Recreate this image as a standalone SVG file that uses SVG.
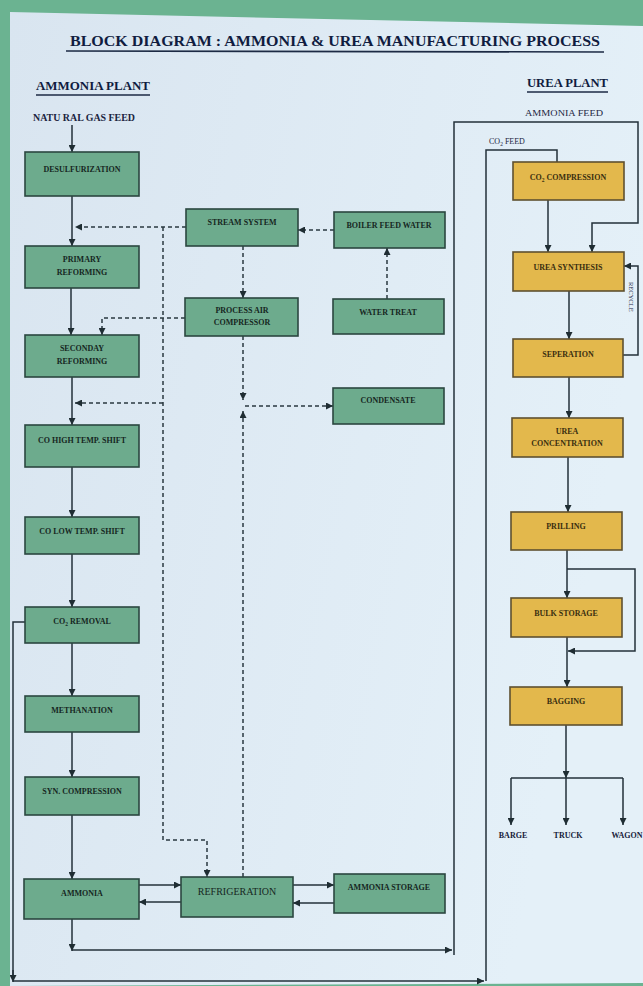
<svg xmlns="http://www.w3.org/2000/svg" width="643" height="986" viewBox="0 0 643 986">
<defs>
<linearGradient id="paper" x1="0" y1="0" x2="1" y2="0.3">
<stop offset="0" stop-color="#d9e5f0"/>
<stop offset="1" stop-color="#e4f0f8"/>
</linearGradient>
<marker id="ah" viewBox="0 0 8 8" refX="8" refY="4" markerWidth="7" markerHeight="7" markerUnits="userSpaceOnUse" orient="auto">
<path d="M0,0 L8,4 L0,8 z" fill="#1f2d33"/>
</marker>
<style>
.g rect{fill:#6dab8d;stroke:#2b4740;stroke-width:1.6}
.y rect{fill:#e3b84c;stroke:#5e5030;stroke-width:1.6}
.g text{fill:#16271f}
.y text{fill:#3a2f10}
text{font-family:"Liberation Serif","Times New Roman",serif}
.b{font-size:8px;font-weight:bold;text-anchor:middle}
.s{fill:none;stroke:#23313a;stroke-width:1.5}
.d{fill:none;stroke:#2a3840;stroke-width:1.5;stroke-dasharray:4 3}
.a{marker-end:url(#ah)}
.h{font-weight:bold;fill:#101c40}
.l{font-size:8px;font-weight:bold;fill:#16213a;text-anchor:middle}
</style>
</defs>
<rect x="0" y="0" width="643" height="986" fill="#6bb391"/>
<polygon points="10,12 643,26 643,983 10,986" fill="url(#paper)"/>

<g id="titles">
<text class="h" x="70" y="46" font-size="15" textLength="530" lengthAdjust="spacingAndGlyphs">BLOCK DIAGRAM : AMMONIA &amp; UREA MANUFACTURING PROCESS</text>
<line x1="66" y1="51" x2="604" y2="52" stroke="#1c2a44" stroke-width="1.6"/>
<text class="h" x="36" y="90" font-size="13" textLength="114" lengthAdjust="spacingAndGlyphs">AMMONIA PLANT</text>
<line x1="36" y1="95" x2="150" y2="95" stroke="#1c2a44" stroke-width="1.4"/>
<text class="h" x="527" y="87" font-size="13" textLength="81" lengthAdjust="spacingAndGlyphs">UREA PLANT</text>
<line x1="527" y1="92" x2="608" y2="92" stroke="#1c2a44" stroke-width="1.4"/>
<text x="33" y="121" font-size="9.5" font-weight="bold" fill="#1a2440" textLength="102" lengthAdjust="spacingAndGlyphs">NATU RAL GAS FEED</text>
<text x="525" y="116" font-size="9" fill="#1a2440" textLength="78" lengthAdjust="spacingAndGlyphs">AMMONIA FEED</text>
<text x="489" y="144" font-size="8" fill="#1a2440">CO<tspan font-size="5.5" dy="2">2</tspan><tspan dy="-2"> FEED</tspan></text>
<text x="629" y="282" font-size="6.5" fill="#1a2440" transform="rotate(90 629 282)">RECYCLE</text>
<text class="l" x="513" y="838">BARGE</text>
<text class="l" x="568" y="838">TRUCK</text>
<text class="l" x="627" y="838">WAGON</text>
</g>

<g id="connectors">
<path class="s a" d="M72,125 V152"/>
<path class="s a" d="M72,196 V246"/>
<path class="s a" d="M71,288 V335"/>
<path class="s a" d="M72,377 V425"/>
<path class="s a" d="M72,467 V517"/>
<path class="s a" d="M72,554 V607"/>
<path class="s a" d="M72,643 V696"/>
<path class="s a" d="M72,732 V777"/>
<path class="s a" d="M72,815 V879"/>
<path class="s a" d="M72,919 V951"/>
<path class="s a" d="M72,950 H452"/>
<path class="s a" d="M454,955 V122 H638 V223 H592 V252"/>
<path class="s" d="M25,622 H13 V975"/>
<path class="s a" d="M13,970 V982"/>
<path class="s a" d="M13,981 H484"/>
<path class="s" d="M486,981 V150 H557 V162"/>
<path class="s a" d="M548,200 V252"/>
<path class="s a" d="M569,291 V339"/>
<path class="s a" d="M623,355 H638 V266 H624"/>
<path class="s a" d="M569,377 V418"/>
<path class="s a" d="M568,457 V512"/>
<path class="s a" d="M567,550 V598"/>
<path class="s a" d="M567,569 H635 V651 H568"/>
<path class="s a" d="M567,637 V687"/>
<path class="s a" d="M566,725 V778"/>
<path class="s" d="M511,778 H623"/>
<path class="s a" d="M511,778 V825"/>
<path class="s a" d="M566,778 V825"/>
<path class="s a" d="M623,778 V825"/>
<path class="s a" d="M139,885 H181"/>
<path class="s a" d="M181,902 H139"/>
<path class="s a" d="M293,885 H334"/>
<path class="s a" d="M334,903 H293"/>
<path class="d a" d="M186,227 H75"/>
<path class="d a" d="M163,227 V840 H207 V877"/>
<path class="d a" d="M163,403 H75"/>
<path class="d a" d="M334,230 H298"/>
<path class="d a" d="M387,299 V248"/>
<path class="d a" d="M243,246 V298"/>
<path class="d a" d="M185,318 H102 V335"/>
<path class="d a" d="M243,336 V400"/>
<path class="d a" d="M243,877 V411"/>
<path class="d a" d="M245,406 H333"/>
</g>

<g id="desulfurization" class="g"><rect x="25" y="152" width="114" height="44"/><text class="b" x="82" y="172">DESULFURIZATION</text></g>
<g id="primary-reforming" class="g"><rect x="25" y="246" width="114" height="42"/><text class="b" x="82" y="262">PRIMARY</text><text class="b" x="82" y="275">REFORMING</text></g>
<g id="secondary-reforming" class="g"><rect x="25" y="335" width="114" height="42"/><text class="b" x="82" y="351">SECONDAY</text><text class="b" x="82" y="364">REFORMING</text></g>
<g id="co-high-temp-shift" class="g"><rect x="25" y="425" width="114" height="42"/><text class="b" x="82" y="443">CO HIGH TEMP. SHIFT</text></g>
<g id="co-low-temp-shift" class="g"><rect x="25" y="517" width="114" height="37"/><text class="b" x="82" y="534">CO LOW TEMP. SHIFT</text></g>
<g id="co2-removal" class="g"><rect x="25" y="607" width="114" height="36"/><text class="b" x="82" y="624">CO<tspan font-size="5.5" dy="2">2</tspan><tspan dy="-2"> REMOVAL</tspan></text></g>
<g id="methanation" class="g"><rect x="25" y="696" width="114" height="36"/><text class="b" x="82" y="713">METHANATION</text></g>
<g id="syn-compression" class="g"><rect x="25" y="777" width="114" height="38"/><text class="b" x="82" y="794">SYN. COMPRESSION</text></g>
<g id="ammonia" class="g"><rect x="24" y="879" width="115" height="40"/><text class="b" x="82" y="896">AMMONIA</text></g>
<g id="stream-system" class="g"><rect x="186" y="209" width="112" height="37"/><text class="b" x="242" y="225">STREAM SYSTEM</text></g>
<g id="boiler-feed-water" class="g"><rect x="334" y="212" width="111" height="36"/><text class="b" x="389" y="228">BOILER FEED WATER</text></g>
<g id="process-air-compressor" class="g"><rect x="185" y="298" width="113" height="38"/><text class="b" x="242" y="313">PROCESS AIR</text><text class="b" x="242" y="325">COMPRESSOR</text></g>
<g id="water-treat" class="g"><rect x="333" y="299" width="111" height="35"/><text class="b" x="388" y="315">WATER TREAT</text></g>
<g id="condensate" class="g"><rect x="333" y="388" width="111" height="36"/><text class="b" x="388" y="403">CONDENSATE</text></g>
<g id="refrigeration" class="g"><rect x="181" y="877" width="112" height="40"/><text x="237" y="895" font-size="10" text-anchor="middle">REFRIGERATION</text></g>
<g id="ammonia-storage" class="g"><rect x="334" y="874" width="111" height="39"/><text class="b" x="389" y="890">AMMONIA STORAGE</text></g>

<g id="co2-compression" class="y"><rect x="513" y="162" width="111" height="38"/><text class="b" x="568" y="180">CO<tspan font-size="5.5" dy="2">2</tspan><tspan dy="-2"> COMPRESSION</tspan></text></g>
<g id="urea-synthesis" class="y"><rect x="513" y="252" width="111" height="39"/><text class="b" x="568" y="270">UREA SYNTHESIS</text></g>
<g id="seperation" class="y"><rect x="513" y="339" width="110" height="38"/><text class="b" x="568" y="357">SEPERATION</text></g>
<g id="urea-concentration" class="y"><rect x="512" y="418" width="111" height="39"/><text class="b" x="567" y="434">UREA</text><text class="b" x="567" y="446">CONCENTRATION</text></g>
<g id="prilling" class="y"><rect x="511" y="512" width="111" height="38"/><text class="b" x="566" y="529">PRILLING</text></g>
<g id="bulk-storage" class="y"><rect x="511" y="598" width="111" height="39"/><text class="b" x="566" y="616">BULK STORAGE</text></g>
<g id="bagging" class="y"><rect x="510" y="687" width="112" height="38"/><text class="b" x="566" y="704">BAGGING</text></g>
</svg>
